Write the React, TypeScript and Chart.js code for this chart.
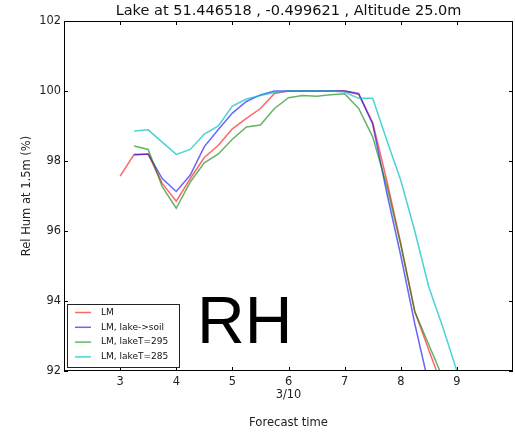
import React, { useEffect, useRef } from 'react';
import { Chart, registerables } from 'chart.js';

Chart.register(...registerables);

const times = [3.0, 3.25, 3.5, 3.75, 4.0, 4.25, 4.5, 4.75, 5.0, 5.25, 5.5, 5.75, 6.0, 6.25, 6.5, 6.75, 7.0, 7.25, 7.5, 7.75, 8.0, 8.25, 8.5, 8.75, 9.0];
const lm = [97.57, 98.19, 98.19, 97.36, 96.85, 97.5, 98.1, 98.45, 98.92, 99.22, 99.5, 99.93, 100, 100, 100, 100, 100, 99.9, 99.1, 97.45, 95.65, 93.7, 92.6, 91.5, null];
const lakeSoil = [null, 98.17, 98.2, 97.5, 97.13, 97.6, 98.41, 98.9, 99.37, 99.7, 99.89, 100, 100, 100, 100, 100, 100, 99.93, 99.05, 97.1, 95.3, 93.35, 91.6, null, null];
const lakeT295 = [null, 98.43, 98.33, 97.27, 96.65, 97.4, 97.95, 98.2, 98.62, 98.97, 99.03, 99.5, 99.81, 99.87, 99.85, 99.89, 99.92, 99.5, 98.69, 97.3, 95.6, 93.7, 92.75, 91.8, null];
const lakeT285 = [null, 98.86, 98.89, 98.54, 98.19, 98.33, 98.77, 99.0, 99.57, 99.77, 99.87, 99.96, 100, 100, 100, 100, 99.97, 99.79, 99.79, 98.6, 97.45, 96.0, 94.4, 93.25, 92.0];

const seriesLabels = ['LM', 'LM, lake->soil', 'LM, lakeT=295', 'LM, lakeT=285'];
const seriesColors = ['rgba(255,0,0,0.6)', 'rgba(0,0,255,0.6)', 'rgba(0,128,0,0.6)', 'rgba(0,191,191,0.7)'];
const xTickValues = [3, 4, 5, 6, 7, 8, 9];
const yTickValues = [92, 94, 96, 98, 100, 102];
const dateTick = 6;
const dateLabel = '3/10';
const titleText = 'Lake at 51.446518 , -0.499621 , Altitude 25.0m';
const xTitle = 'Forecast time';
const yTitle = 'Rel Hum at 1.5m (%)';
const annotation = 'RH';

const FONT = "'DejaVu Sans', sans-serif";

const extrasPlugin = {
  id: 'extras',
  afterDatasetsDraw(chart: any) {
    const { ctx, chartArea: a, scales } = chart;
    const xs = scales.x;
    const ys = scales.y;
    ctx.save();
    ctx.strokeStyle = '#000';
    ctx.lineWidth = 1;
    ctx.strokeRect(a.left + 0.5, a.top + 0.5, a.right - a.left - 1, a.bottom - a.top - 1);
    const tl = 4;
    ctx.beginPath();
    xTickValues.forEach((v) => {
      const px = Math.round(xs.getPixelForValue(v)) + 0.5;
      ctx.moveTo(px, a.bottom);
      ctx.lineTo(px, a.bottom - tl);
      ctx.moveTo(px, a.top);
      ctx.lineTo(px, a.top + tl);
    });
    yTickValues.forEach((v) => {
      const py = Math.round(ys.getPixelForValue(v)) + 0.5;
      ctx.moveTo(a.left, py);
      ctx.lineTo(a.left + tl, py);
      ctx.moveTo(a.right, py);
      ctx.lineTo(a.right - tl, py);
    });
    ctx.stroke();

    // legend
    const lx = a.left + 3;
    const ly = a.bottom - 67;
    const lw = 112;
    const lh = 63;
    ctx.fillStyle = '#fff';
    ctx.fillRect(lx, ly, lw, lh);
    ctx.strokeStyle = '#222';
    ctx.strokeRect(lx + 0.5, ly + 0.5, lw, lh);
    ctx.font = `9px ${FONT}`;
    ctx.textBaseline = 'middle';
    ctx.textAlign = 'left';
    chart.data.datasets.forEach((ds: any, i: number) => {
      const cy = ly + 8.5 + i * 14.8;
      ctx.strokeStyle = ds.borderColor;
      ctx.lineWidth = 1.5;
      ctx.beginPath();
      ctx.moveTo(lx + 8, cy);
      ctx.lineTo(lx + 24, cy);
      ctx.stroke();
      ctx.fillStyle = '#111';
      ctx.fillText(ds.label, lx + 34, cy);
    });

    // annotation
    ctx.fillStyle = '#000';
    ctx.font = `66px 'Liberation Sans', Arial, sans-serif`;
    ctx.textBaseline = 'alphabetic';
    ctx.textAlign = 'left';
    ctx.fillText(annotation, a.left + 133, a.bottom - 28);
    ctx.restore();
  },
};

export default function App() {
  const ref = useRef<HTMLCanvasElement | null>(null);
  useEffect(() => {
    if (!ref.current) return;
    const series = [lm, lakeSoil, lakeT295, lakeT285];
    const chart = new Chart(ref.current, {
      type: 'line',
      data: {
        datasets: series.map((vals, i) => ({
          label: seriesLabels[i],
          data: times.map((t, j) => ({ x: t, y: vals[j] })),
          borderColor: seriesColors[i],
          backgroundColor: seriesColors[i],
          borderWidth: 1.5,
          pointRadius: 0,
          fill: false,
          tension: 0,
          order: 4 - i,
        })),
      },
      options: {
        animation: false,
        responsive: false,
        devicePixelRatio: 1,
        layout: { padding: { top: 0, right: 2, bottom: 0, left: 0 } },
        plugins: {
          legend: { display: false },
          tooltip: { enabled: false },
          title: {
            display: true,
            fullSize: false,
            text: titleText,
            color: '#111',
            font: { family: FONT, size: 14.5, weight: 'normal', lineHeight: 1.2 },
            padding: { top: 3, bottom: 0.6 },
          },
        },
        scales: {
          x: {
            type: 'linear',
            min: 2,
            max: 10,
            afterBuildTicks: (s: any) => {
              s.ticks = xTickValues.map((v) => ({ value: v }));
            },
            afterFit: (s: any) => {
              s.height = 61;
            },
            grid: { display: false, drawTicks: false },
            border: { display: false },
            ticks: {
              padding: 4,
              color: '#222',
              font: { family: FONT, size: 11.4, lineHeight: 1.15 },
              maxRotation: 0,
              autoSkip: false,
              callback: (v: any) => (Number(v) === dateTick ? [String(v), dateLabel] : String(v)),
            },
            title: {
              display: true,
              text: xTitle,
              color: '#222',
              font: { family: FONT, size: 11.6, lineHeight: 1.2 },
              padding: { top: 0, bottom: 2.1 },
            },
          },
          y: {
            type: 'linear',
            min: 92,
            max: 102,
            afterBuildTicks: (s: any) => {
              s.ticks = yTickValues.map((v) => ({ value: v }));
            },
            afterFit: (s: any) => {
              s.width = 64;
            },
            grid: { display: false, drawTicks: false },
            border: { display: false },
            ticks: {
              padding: 3,
              color: '#222',
              font: { family: FONT, size: 11.4 },
              callback: (v: any) => String(v),
            },
            title: {
              display: true,
              text: yTitle,
              color: '#222',
              font: { family: FONT, size: 11.5, lineHeight: 1.2 },
              padding: { top: 20.6, bottom: 0 },
            },
          },
        },
      },
      plugins: [extrasPlugin],
    } as any);
    return () => chart.destroy();
  }, []);
  return (
    <div style={{ position: 'fixed', left: 0, top: 0, width: 515, height: 432, background: '#fff' }}>
      <canvas ref={ref} width={515} height={432} style={{ display: 'block' }} />
    </div>
  );
}
